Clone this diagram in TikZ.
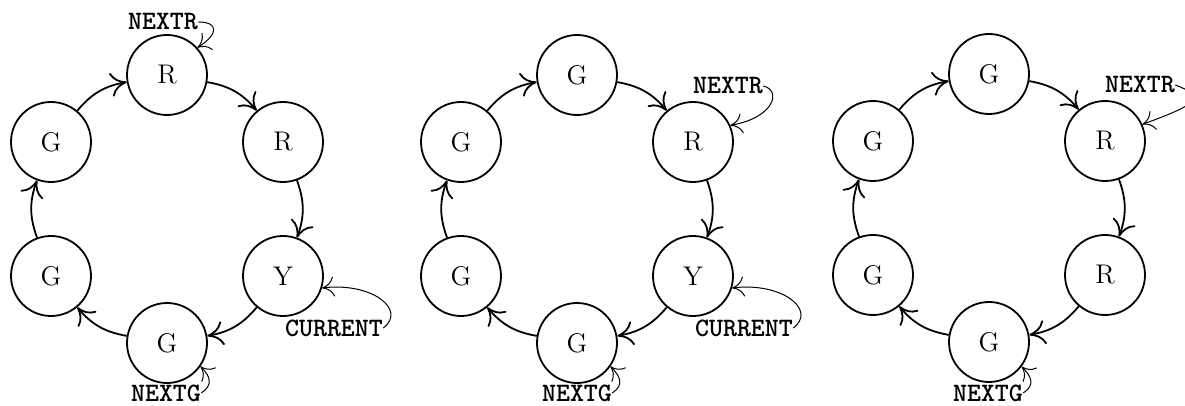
\documentclass[tikz,border=0pt]{standalone}
\usetikzlibrary{arrows.meta}
\begin{document}
\begin{tikzpicture}[x=0.5pt,y=0.5pt,
  light/.style={circle, draw, line width=0.9pt, minimum size=40pt, inner sep=0pt, font=\fontsize{13.5}{15}\selectfont},
  link/.style={-{To[length=8pt,width=12pt]}, line width=0.9pt, bend left=20},
  ptr/.style={-{To[length=6pt,width=10pt]}, line width=0.5pt},
  ptrtext/.style={inner sep=0pt, font=\fontsize{13.3}{15}\selectfont\ttfamily\bfseries}]
\useasboundingbox (0,0) rectangle (1185,406);
\node[light] (a1) at (167,331){R};
\node[light] (a2) at (283,264){R};
\node[light] (a3) at (283,130){Y};
\node[light] (a4) at (167,63){G};
\node[light] (a5) at (51,130){G};
\node[light] (a6) at (51,264){G};
\draw[link](a1) to (a2);
\draw[link](a2) to (a3);
\draw[link](a3) to (a4);
\draw[link](a4) to (a5);
\draw[link](a5) to (a6);
\draw[link](a6) to (a1);
\node[ptrtext] (nextr1) at (163,384){NEXTR};
\node[ptrtext] (cur1) at (334,78){CURRENT};
\node[ptrtext] (nextg1) at (166,13){NEXTG};
\draw[ptr](nextr1.east) .. controls +(20,0) and +(22,14) .. (a1.42);
\draw[ptr](cur1.east) .. controls +(24,18) and +(50,6) .. (a3.-17);
\draw[ptr](nextg1.east) .. controls +(12,8) and +(10,-10) .. (a4.-35);
\node[light] (b1) at (577,331){G};
\node[light] (b2) at (693,264){R};
\node[light] (b3) at (693,130){Y};
\node[light] (b4) at (577,63){G};
\node[light] (b5) at (461,130){G};
\node[light] (b6) at (461,264){G};
\draw[link](b1) to (b2);
\draw[link](b2) to (b3);
\draw[link](b3) to (b4);
\draw[link](b4) to (b5);
\draw[link](b5) to (b6);
\draw[link](b6) to (b1);
\node[ptrtext] (nextr2) at (728,320){NEXTR};
\node[ptrtext] (cur2) at (744,78){CURRENT};
\node[ptrtext] (nextg2) at (577,13){NEXTG};
\draw[ptr](nextr2.east) .. controls +(18,-4) and +(45,8) .. (b2.24);
\draw[ptr](cur2.east) .. controls +(24,18) and +(50,6) .. (b3.-17);
\draw[ptr](nextg2.east) .. controls +(12,8) and +(10,-10) .. (b4.-35);
\node[light] (c1) at (989,332){G};
\node[light] (c2) at (1105,265){R};
\node[light] (c3) at (1105,131){R};
\node[light] (c4) at (989,64){G};
\node[light] (c5) at (873,131){G};
\node[light] (c6) at (873,265){G};
\draw[link](c1) to (c2);
\draw[link](c2) to (c3);
\draw[link](c3) to (c4);
\draw[link](c4) to (c5);
\draw[link](c5) to (c6);
\draw[link](c6) to (c1);
\node[ptrtext] (nextr3) at (1140,321){NEXTR};
\node[ptrtext] (nextg3) at (988,13){NEXTG};
\draw[ptr](nextr3.east) .. controls +(32,-12) and +(55,20) .. (c2.24);
\draw[ptr](nextg3.east) .. controls +(12,8) and +(10,-10) .. (c4.-37);
\end{tikzpicture}
\end{document}
